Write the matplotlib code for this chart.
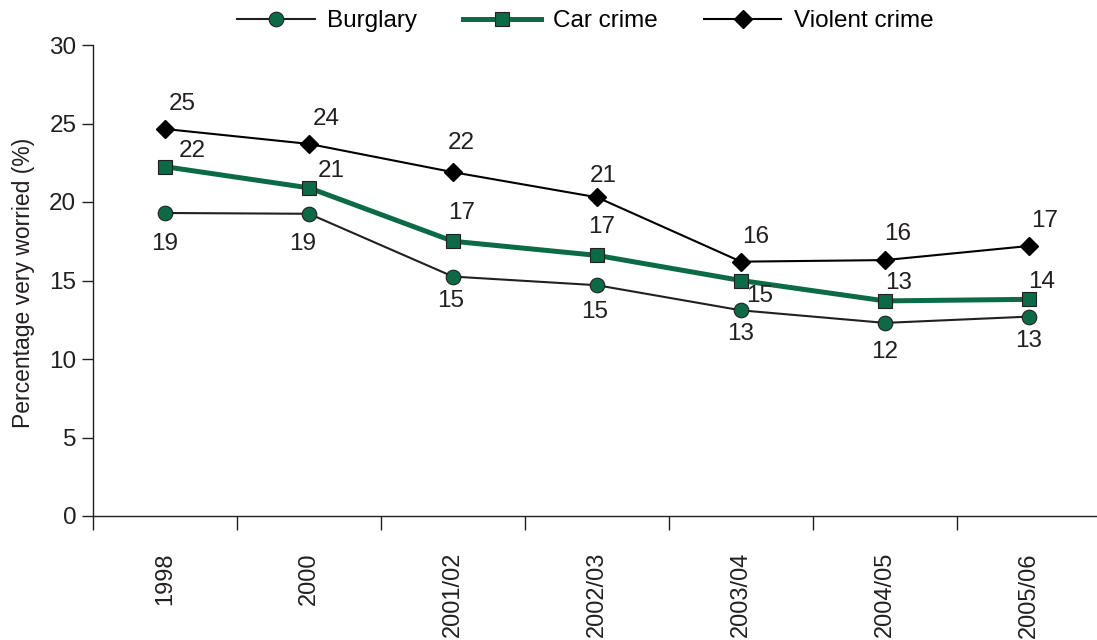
import matplotlib
matplotlib.use("Agg")
import matplotlib.pyplot as plt
import numpy as np

plt.rcParams["font.family"] = ["Liberation Sans", "DejaVu Sans"]

YEARS = ["1998", "2000", "2001/02", "2002/03", "2003/04", "2004/05", "2005/06"]
BURGLARY = [19.3, 19.25, 15.25, 14.7, 13.1, 12.3, 12.7]
CAR = [22.25, 20.9, 17.5, 16.6, 15.0, 13.7, 13.8]
VIOLENT = [24.65, 23.7, 21.9, 20.3, 16.2, 16.3, 17.2]
BURGLARY_LBL = [19, 19, 15, 15, 13, 12, 13]
CAR_LBL = [22, 21, 17, 17, 15, 13, 14]
VIOLENT_LBL = [25, 24, 22, 21, 16, 16, 17]

# ラベル位置のずらし量（px, 上向き正）
OFF_B = [(0, -31), (-6, -30), (-2, -24), (-2, -27), (0, -24), (0, -29), (0, -24)]
OFF_C = [(27, 16), (22, 17), (9, 28), (5, 28), (19, -15), (14, 18), (13, 17)]
OFF_V = [(17, 25), (17, 25), (8, 29), (6, 21), (15, 25), (13, 26), (16, 25)]

GREEN = "#0b6b47"
DARK = "#231f20"
FS = 17.5

fig = plt.figure(figsize=(10.97, 6.4), dpi=100)
ax = fig.add_axes([93 / 1097, 124 / 640, 1004 / 1097, 471 / 640])
x = np.arange(len(YEARS))

ax.plot(x, BURGLARY, color=DARK, lw=1.5, marker="o", ms=10.5, mfc=GREEN,
        mec=DARK, mew=0.8, label="Burglary", zorder=3)
ax.plot(x, CAR, color=GREEN, lw=3.6, marker="s", ms=9.5, mfc=GREEN,
        mec=DARK, mew=0.8, label="Car crime", zorder=4)
ax.plot(x, VIOLENT, color="black", lw=1.5, marker="D", ms=9.5, mfc="black",
        mec="black", label="Violent crime", zorder=5)

for vals, lbls, offs in [(BURGLARY, BURGLARY_LBL, OFF_B), (CAR, CAR_LBL, OFF_C),
                         (VIOLENT, VIOLENT_LBL, OFF_V)]:
    for i, (v, l, o) in enumerate(zip(vals, lbls, offs)):
        ax.annotate(str(l), (i, v), xytext=(o[0] * 0.72, o[1] * 0.72),
                    textcoords="offset points", ha="center", va="center",
                    fontsize=FS, color=DARK, zorder=6)

ax.set_xlim(-0.5, -0.5 + 1004 / 144)
ax.set_ylim(0, 30)
ax.set_yticks(range(0, 31, 5))
ax.set_xticks(np.arange(-0.5, 6, 1))
ax.set_xticklabels([])
ax.set_xticks(x, minor=True)
ax.set_xticklabels(YEARS, minor=True, rotation=90, va="top", ha="center")
ax.tick_params(axis="x", which="major", direction="out", length=10, width=1, color=DARK)
ax.tick_params(axis="x", which="minor", length=0, pad=26, labelsize=FS - 0.5, labelcolor=DARK)
ax.tick_params(axis="y", direction="out", length=8, width=1, color=DARK,
               labelsize=FS, labelcolor=DARK, pad=4)
for s in ["top", "right"]:
    ax.spines[s].set_visible(False)
for s in ["left", "bottom"]:
    ax.spines[s].set_color(DARK)
    ax.spines[s].set_linewidth(1)

ax.set_ylabel("Percentage very worried (%)", fontsize=16.5, color=DARK)
ax.yaxis.set_label_coords(-0.058, 0.495)

ax.legend(loc="upper center", bbox_to_anchor=(492 / 1004, 1.12), ncol=3,
          frameon=False, fontsize=FS, handlelength=3.2, columnspacing=1.9,
          handletextpad=0.5)

fig.savefig("out.png", dpi=100)
